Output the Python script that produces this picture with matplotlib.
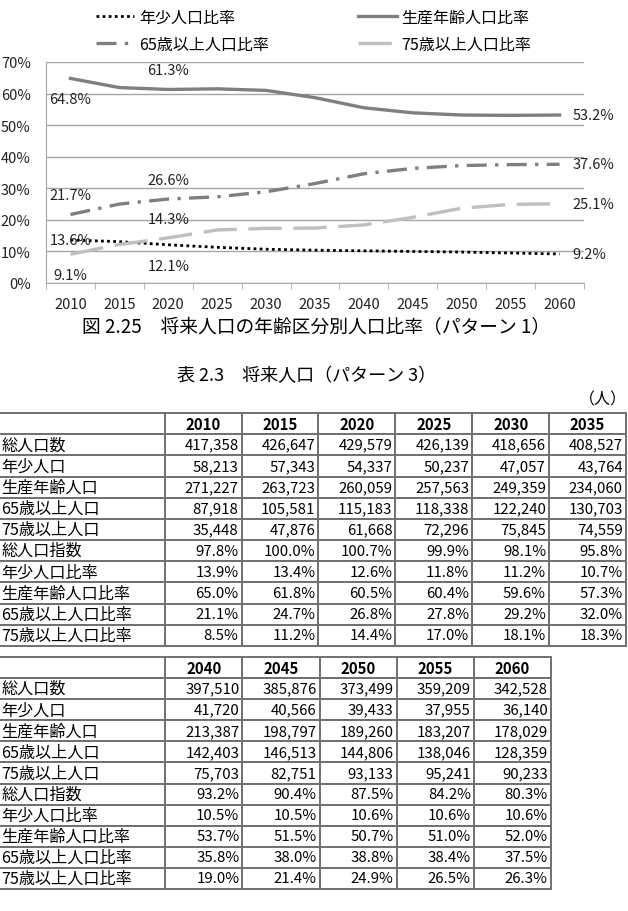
import matplotlib
matplotlib.use('Agg')
import matplotlib.pyplot as plt

plt.rcParams['font.family'] = ['Noto Sans CJK JP', 'DejaVu Sans']

# chart data (pattern 1)
years = [2010, 2015, 2020, 2025, 2030, 2035, 2040, 2045, 2050, 2055, 2060]
youth_ratio = [13.6, 13.1, 12.1, 11.3, 10.7, 10.4, 10.2, 10.0, 9.8, 9.5, 9.2]
working_ratio = [64.8, 61.9, 61.3, 61.5, 61.0, 58.7, 55.5, 53.9, 53.2, 53.1, 53.2]
over65_ratio = [21.7, 25.0, 26.6, 27.3, 28.9, 31.5, 34.6, 36.3, 37.2, 37.5, 37.6]
over75_ratio = [9.1, 12.2, 14.3, 16.8, 17.3, 17.4, 18.4, 20.8, 23.7, 24.9, 25.1]

# table data (pattern 3)
row_names = ['総人口数', '年少人口', '生産年齢人口', '65歳以上人口', '75歳以上人口',
             '総人口指数', '年少人口比率', '生産年齢人口比率', '65歳以上人口比率', '75歳以上人口比率']
total_pop = [417358, 426647, 429579, 426139, 418656, 408527, 397510, 385876, 373499, 359209, 342528]
youth_pop = [58213, 57343, 54337, 50237, 47057, 43764, 41720, 40566, 39433, 37955, 36140]
working_pop = [271227, 263723, 260059, 257563, 249359, 234060, 213387, 198797, 189260, 183207, 178029]
over65_pop = [87918, 105581, 115183, 118338, 122240, 130703, 142403, 146513, 144806, 138046, 128359]
over75_pop = [35448, 47876, 61668, 72296, 75845, 74559, 75703, 82751, 93133, 95241, 90233]
pop_index = [97.8, 100.0, 100.7, 99.9, 98.1, 95.8, 93.2, 90.4, 87.5, 84.2, 80.3]
t_youth_ratio = [13.9, 13.4, 12.6, 11.8, 11.2, 10.7, 10.5, 10.5, 10.6, 10.6, 10.6]
t_working_ratio = [65.0, 61.8, 60.5, 60.4, 59.6, 57.3, 53.7, 51.5, 50.7, 51.0, 52.0]
t_over65_ratio = [21.1, 24.7, 26.8, 27.8, 29.2, 32.0, 35.8, 38.0, 38.8, 38.4, 37.5]
t_over75_ratio = [8.5, 11.2, 14.4, 17.0, 18.1, 18.3, 19.0, 21.4, 24.9, 26.5, 26.3]

W, H = 628, 912
fig = plt.figure(figsize=(W / 100, H / 100), dpi=100)


def fx(px):
    return px / W


def fy(py):
    return 1 - py / H


# ---- line chart ----
ax = fig.add_axes([fx(46), fy(284), fx(584) - fx(46), fy(63) - fy(284)])
x = list(range(len(years)))
l_youth, = ax.plot(x, youth_ratio, color='black', lw=2.0, ls=(0, (1, 1.2)), label='年少人口比率')
l_work, = ax.plot(x, working_ratio, color='#7f7f7f', lw=2.4, label='生産年齢人口比率')
l_65, = ax.plot(x, over65_ratio, color='#7f7f7f', lw=2.4, ls=(0, (6, 2.5, 1, 2.5)), label='65歳以上人口比率')
l_75, = ax.plot(x, over75_ratio, color='#bfbfbf', lw=2.4, ls=(0, (10, 3.5)), label='75歳以上人口比率')

ax.set_xlim(-0.5, len(years) - 0.5)
ax.set_ylim(0, 70)
ax.set_yticks(range(0, 71, 10), [f'{v}%' for v in range(0, 71, 10)])
ax.yaxis.grid(True, color='#a6a6a6', lw=1)
ax.set_axisbelow(True)
ax.tick_params(axis='y', length=0, pad=11, labelsize=10.5, labelcolor='#222222')
ax.set_xticks(x, [str(y) for y in years])
ax.set_xticks([i - 0.5 for i in range(len(years) + 1)], minor=True)
ax.tick_params(axis='x', which='major', length=0, pad=10, labelsize=10.5, labelcolor='#222222')
ax.tick_params(axis='x', which='minor', length=4, color='#a6a6a6', direction='out')
for s in ['top', 'right']:
    ax.spines[s].set_visible(False)
for s in ['left', 'bottom']:
    ax.spines[s].set_color('#a6a6a6')

# data labels
offsets = {'above': (0, 19, 'center'), 'below': (0, -21, 'center'),
           'center': (0, 0, 'center'), 'right': (13, 0, 'left')}
label_spec = [
    (working_ratio, 0, 'below'), (working_ratio, 2, 'above'), (working_ratio, 10, 'right'),
    (over65_ratio, 0, 'above'), (over65_ratio, 2, 'above'), (over65_ratio, 10, 'right'),
    (over75_ratio, 0, 'below'), (over75_ratio, 2, 'above'), (over75_ratio, 10, 'right'),
    (youth_ratio, 0, 'center'), (youth_ratio, 2, 'below'), (youth_ratio, 10, 'right'),
]
for series, i, pos in label_spec:
    dx, dy, ha = offsets[pos]
    ax.annotate(f'{series[i]:.1f}%', (x[i], series[i]), xytext=(dx, dy), textcoords='offset pixels',
                ha=ha, va='center', fontsize=10.5, color='#222222', annotation_clip=False)

ax.legend(handles=[l_youth, l_65, l_work, l_75], ncol=2, loc='upper left',
          bbox_to_anchor=(fx(96), fy(10)), bbox_transform=fig.transFigure,
          frameon=False, fontsize=11.5, handlelength=2.4, handletextpad=0.3,
          columnspacing=5.6, labelspacing=0.6, borderpad=0, borderaxespad=0)

fig.text(fx(316), fy(328), '図 2.25　将来人口の年齢区分別人口比率（パターン 1）',
         ha='center', va='center', fontsize=13.5)
fig.text(fx(307), fy(376), '表 2.3　将来人口（パターン 3）', ha='center', va='center', fontsize=13)
fig.text(fx(627), fy(400), '（人）', ha='right', va='center', fontsize=11.5)

# ---- tables ----
table_rows = [total_pop, youth_pop, working_pop, over65_pop, over75_pop,
              pop_index, t_youth_ratio, t_working_ratio, t_over65_ratio, t_over75_ratio]


def fmt(v, k):
    return f'{v:,}' if k < 5 else f'{v:.1f}%'


def draw_table(c0, c1, top, bottom, right):
    cols = years[c0:c1]
    cells = [[''] + [str(y) for y in cols]]
    for k, (name, vals) in enumerate(zip(row_names, table_rows)):
        cells.append([name] + [fmt(v, k) for v in vals[c0:c1]])
    tax = fig.add_axes([fx(-1), fy(bottom), fx(right + 1), (bottom - top) / H])
    tax.axis('off')
    widths = [166] + [77] * len(cols)
    tbl = tax.table(cellText=cells, colWidths=[w / sum(widths) for w in widths],
                    cellLoc='right', bbox=[0, 0, 1, 1])
    tbl.auto_set_font_size(False)
    tbl.set_fontsize(10.8)
    for (r, c), cell in tbl.get_celld().items():
        cell.set_edgecolor('#707070')
        cell.set_linewidth(1.4)
        txt = cell.get_text()
        if c == 0:
            cell._loc = 'left'
            cell.PAD = 0.015
            txt.set_ha('left')
            txt.set_fontsize(11.6)
        elif r == 0:
            cell._loc = 'center'
            txt.set_ha('center')
            txt.set_fontweight('semibold')
        else:
            cell.PAD = 0.04
    return tbl


draw_table(0, 6, 414, 647, 626)
draw_table(6, 11, 658, 890, 551)

fig.savefig('out.png', dpi=100)
